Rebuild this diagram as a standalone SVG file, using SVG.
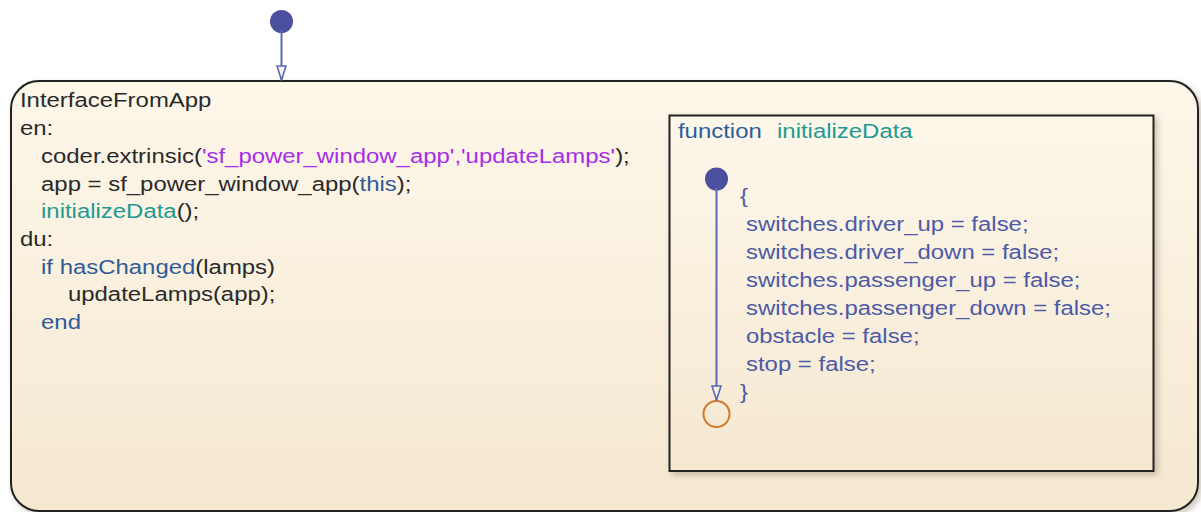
<svg xmlns="http://www.w3.org/2000/svg" width="1201" height="512" viewBox="0 0 1201 512">
<style>
.t{font-family:"Liberation Sans",Arial,sans-serif;font-size:21px;fill:#2a2a2a}
.s{fill:#a52ee8}
.f{fill:#1f9a92}
.k{fill:#2e5c98}
.b{fill:#4d5aa8}
.st{stroke:#222;stroke-width:2}
.tr{stroke:#5a68b4;stroke-width:2;fill:none}
</style>
<defs>
<linearGradient id="g" x1="0" y1="0" x2="0" y2="1">
<stop offset="0" stop-color="#fdf7ea"/>
<stop offset="1" stop-color="#f5e8d1"/>
</linearGradient>
<filter id="sh" x="-5%" y="-5%" width="110%" height="115%">
<feDropShadow dx="3" dy="3" stdDeviation="3" flood-color="#6a5a3a" flood-opacity="0.35"/>
</filter>
<marker id="ar" viewBox="0 0 16 12" refX="15" refY="6" markerWidth="16" markerHeight="12" markerUnits="userSpaceOnUse" orient="auto">
<path d="M1,1.5 L1,10.5 L15,6 Z" fill="#fbf4e6" stroke="#5a68b4" stroke-width="1.6"/>
</marker>
</defs>
<rect width="1201" height="512" fill="#fff"/>
<g id="InterfaceFromApp">
<rect x="11" y="81" width="1187" height="430" rx="28" fill="url(#g)" class="st" filter="url(#sh)"/>
<g transform="scale(1.14,1)" class="t">
<text x="17.5" y="107.5">InterfaceFromApp</text>
<text x="17.5" y="135.2">en:</text>
<text x="36" y="162.9">coder.extrinsic(<tspan class="s">'sf_power_window_app','updateLamps'</tspan>);</text>
<text x="36" y="190.6">app = sf_power_window_app(<tspan class="k">this</tspan>);</text>
<text x="36" y="218.3"><tspan class="f">initializeData</tspan>();</text>
<text x="17.5" y="246">du:</text>
<text x="36" y="273.7"><tspan class="k">if hasChanged</tspan>(lamps)</text>
<text x="59.6" y="301.4">updateLamps(app);</text>
<text x="36" y="329.1" class="k">end</text>
</g>
</g>
<g id="initializeData">
<rect x="669.5" y="115.5" width="484" height="355.5" fill="url(#g)" class="st" filter="url(#sh)"/>
<g transform="scale(1.14,1)" class="t">
<text x="594.7" y="138" class="k">function</text>
<text x="681.6" y="138" class="f">initializeData</text>
<g class="b">
<text x="649.1" y="202.7" class="b">{</text>
<text x="654.4" y="230.7" class="b">switches.driver_up = false;</text>
<text x="654.4" y="258.7" class="b">switches.driver_down = false;</text>
<text x="654.4" y="286.7" class="b">switches.passenger_up = false;</text>
<text x="654.4" y="315" class="b">switches.passenger_down = false;</text>
<text x="654.4" y="342.7" class="b">obstacle = false;</text>
<text x="654.4" y="370.7" class="b">stop = false;</text>
<text x="649.1" y="398.7" class="b">}</text>
</g>
</g>
</g>
<g id="default_top">
<circle cx="281.5" cy="21.5" r="11.5" fill="#4a509e"/>
</g>
<g id="default_inner">
<circle cx="716.5" cy="179" r="11.5" fill="#4a509e"/>
</g>
<g id="terminal">
<circle cx="716.5" cy="414" r="13" fill="none" stroke="#d07a2c" stroke-width="2"/>
</g>
<g id="connectors">
<line x1="281.5" y1="30" x2="281.5" y2="80" class="tr" marker-end="url(#ar)"/>
<line x1="716.5" y1="188" x2="716.5" y2="400" class="tr" marker-end="url(#ar)"/>
</g>
</svg>
